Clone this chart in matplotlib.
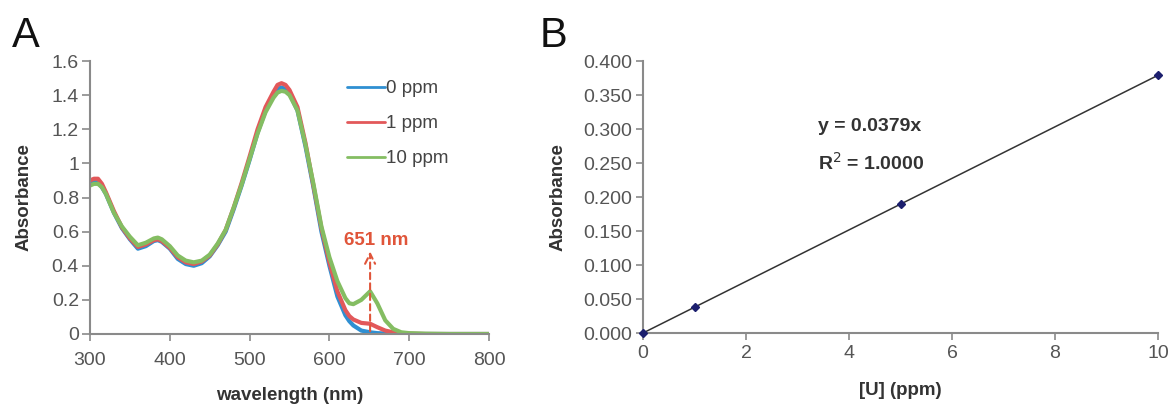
import matplotlib
matplotlib.use("Agg")
import matplotlib.pyplot as plt

plt.rcParams['font.family'] = ['Liberation Sans', 'DejaVu Sans']

# ---------------- Panel A data ----------------
wavelength = [300, 305, 310, 315, 320, 330, 340, 350, 360, 370, 380, 385, 390, 400,
              410, 420, 430, 440, 450, 460, 470, 480, 490, 500, 510, 520, 530, 535, 540,
              545, 550, 560, 570, 580, 590, 600, 610, 620, 625, 630, 640, 651, 660,
              670, 680, 690, 700, 720, 750, 800]
abs_0ppm = [0.88, 0.89, 0.89, 0.86, 0.82, 0.71, 0.62, 0.555, 0.50, 0.515, 0.545, 0.55, 0.54, 0.50,
            0.44, 0.41, 0.40, 0.415, 0.455, 0.52, 0.60, 0.73, 0.87, 1.02, 1.18, 1.31, 1.40, 1.435, 1.445,
            1.435, 1.41, 1.31, 1.10, 0.86, 0.60, 0.40, 0.22, 0.11, 0.075, 0.05, 0.02, 0.01, 0.005,
            0.003, 0.002, 0.001, 0.0, 0.0, 0.0, 0.0]
abs_1ppm = [0.90, 0.91, 0.91, 0.88, 0.83, 0.72, 0.625, 0.56, 0.51, 0.525, 0.55, 0.555, 0.545, 0.505,
            0.45, 0.42, 0.41, 0.425, 0.46, 0.525, 0.61, 0.74, 0.885, 1.04, 1.20, 1.33, 1.42, 1.46, 1.47,
            1.46, 1.43, 1.33, 1.12, 0.87, 0.62, 0.42, 0.25, 0.14, 0.105, 0.085, 0.065, 0.06, 0.04,
            0.02, 0.01, 0.005, 0.002, 0.0, 0.0, 0.0]
abs_10ppm = [0.87, 0.88, 0.88, 0.86, 0.82, 0.71, 0.63, 0.57, 0.52, 0.535, 0.56, 0.565, 0.555, 0.515,
             0.46, 0.43, 0.42, 0.43, 0.465, 0.53, 0.61, 0.74, 0.875, 1.025, 1.175, 1.30, 1.385, 1.415, 1.425,
             1.42, 1.40, 1.31, 1.11, 0.88, 0.63, 0.45, 0.31, 0.21, 0.18, 0.175, 0.20, 0.25, 0.18,
             0.08, 0.03, 0.01, 0.005, 0.002, 0.0, 0.0]
series_labels = ["0 ppm", "1 ppm", "10 ppm"]
series_colors = ["#2f8fd2", "#e2585a", "#84bd62"]
peak_wl = 651
peak_label = "651 nm"

# ---------------- Panel B data ----------------
conc = [0, 1, 5, 10]
absorb = [0.0, 0.038, 0.189, 0.380]
slope = 0.0379
eq_text = "y = 0.0379x"
r2_text = r"R$^{2}$ = 1.0000"

fig = plt.figure(figsize=(11.74, 4.09), dpi=100)

W, H = 1174, 409
def ax_rect(l, r, b, t):
    return [l / W, 1 - b / H, (r - l) / W, (b - t) / H]

tick_col = "#555555"
lab_col = "#333333"
spine_col = "#8a8a8a"

# ---------------- Panel A ----------------
axA = fig.add_axes(ax_rect(90, 489, 334, 61))
for vals, lab, col in zip([abs_0ppm, abs_1ppm, abs_10ppm], series_labels, series_colors):
    axA.plot(wavelength, vals, color=col, lw=3.0, label=lab, solid_capstyle='round',
             solid_joinstyle='round')
axA.set_xlim(300, 800)
axA.set_ylim(0, 1.6)
axA.set_xticks([300, 400, 500, 600, 700, 800])
axA.set_yticks([0, 0.2, 0.4, 0.6, 0.8, 1.0, 1.2, 1.4, 1.6])
axA.set_yticklabels(["0", "0.2", "0.4", "0.6", "0.8", "1", "1.2", "1.4", "1.6"])
axA.tick_params(axis='y', direction='out', length=6, width=1.2, color=spine_col,
                labelsize=14, labelcolor=tick_col, pad=2)
axA.tick_params(axis='x', direction='out', length=5, width=1.2, color=spine_col,
                labelsize=14, labelcolor=tick_col, pad=8)
for s in ['top', 'right']:
    axA.spines[s].set_visible(False)
for s in ['left', 'bottom']:
    axA.spines[s].set_color(spine_col)
    axA.spines[s].set_linewidth(1.5)
axA.set_xlabel("wavelength (nm)", fontsize=13.5, fontweight='bold', color=lab_col, labelpad=13)
axA.set_ylabel("Absorbance", fontsize=13.5, fontweight='bold', color=lab_col, labelpad=14)

axA.annotate("", xy=(peak_wl, 0.50), xytext=(peak_wl, 0.0),
             arrowprops=dict(arrowstyle='->', color="#e0553a", lw=1.5, ls=(0, (3, 2)),
                             mutation_scale=18))
axA.text(659, 0.55, peak_label, color="#e0553a", fontsize=13.5, fontweight='bold',
         ha='center', va='center')

leg = axA.legend(loc='upper left', bbox_to_anchor=(0.645, 0.93), frameon=False,
                 fontsize=13.5, handlelength=2.0, handletextpad=0.05, labelspacing=0.95,
                 borderpad=0, borderaxespad=0)
for t in leg.get_texts():
    t.set_color("#444444")
for l in leg.get_lines():
    l.set_linewidth(2.0)

# ---------------- Panel B ----------------
axB = fig.add_axes(ax_rect(643, 1158, 333, 61))
axB.plot([conc[0], conc[-1]], [slope * conc[0], slope * conc[-1]], color="#333333", lw=1.1)
axB.plot(conc, absorb, ls='none', marker='D', ms=4.5, color="#1c1f6e", clip_on=False, zorder=5)
axB.set_xlim(0, 10)
axB.set_ylim(0, 0.4)
axB.set_xticks([0, 2, 4, 6, 8, 10])
axB.set_yticks([0, 0.05, 0.1, 0.15, 0.2, 0.25, 0.3, 0.35, 0.4])
axB.set_yticklabels(["%.3f" % v for v in [0, 0.05, 0.1, 0.15, 0.2, 0.25, 0.3, 0.35, 0.4]])
axB.tick_params(axis='both', direction='out', length=5, width=1.2, color=spine_col,
                labelsize=14, labelcolor=tick_col)
axB.tick_params(axis='y', pad=3)
axB.tick_params(axis='x', pad=4)
for s in ['top', 'right']:
    axB.spines[s].set_visible(False)
for s in ['left', 'bottom']:
    axB.spines[s].set_color(spine_col)
    axB.spines[s].set_linewidth(1.5)
axB.set_xlabel("[U] (ppm)", fontsize=13.5, fontweight='bold', color=lab_col, labelpad=14)
axB.set_ylabel("Absorbance", fontsize=13.5, fontweight='bold', color=lab_col, labelpad=12)
axB.text(3.4, 0.303, eq_text, fontsize=14, fontweight='bold', color=lab_col,
         ha='left', va='center')
axB.text(3.4, 0.250, r2_text, fontsize=14, fontweight='bold', color=lab_col,
         ha='left', va='center')

# panel letters
fig.text(12 / W, 1 - 47 / H, "A", fontsize=30, color="#111111", va='baseline', ha='left')
fig.text(540 / W, 1 - 47 / H, "B", fontsize=30, color="#111111", va='baseline', ha='left')

fig.savefig("out.png", dpi=100, facecolor='white')
